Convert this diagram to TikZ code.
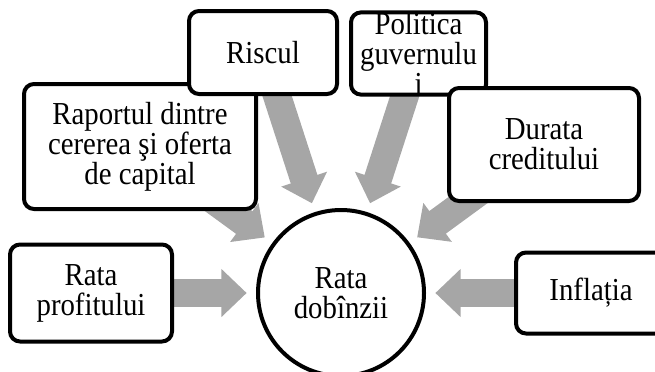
\documentclass[tikz,border=0pt]{standalone}
\usepackage{fontspec}
\setmainfont[FakeStretch=0.9]{Liberation Serif}
\usetikzlibrary{arrows.meta,backgrounds}
\definecolor{arrowgrey}{HTML}{A6A6A6}

\begin{document}
\begin{tikzpicture}[x=0.75pt,y=-0.75pt,
    factor/.style={draw=black, line width=3pt, rounded corners=7.5pt, fill=white,
      align=center, inner sep=0pt, font=\fontsize{24pt}{22.5pt}\selectfont},
    centre/.style={circle, draw=black, line width=3pt, fill=white, align=center,
      inner sep=0pt, minimum size=124.5pt, font=\fontsize{24pt}{22.5pt}\selectfont},
    push/.style={draw=arrowgrey, line width=21pt,
      -{Triangle[length=19pt,width=35pt]}, shorten >=7pt}]
    \useasboundingbox (0,0) rectangle (655,371);

    % factors round the rate
    \node[factor, minimum width=174pt, minimum height=93.75pt] (raport) at (140,146.5) {Raportul dintre\\cererea şi oferta\\de capital};
    \node[factor, minimum width=111pt, minimum height=62.25pt] (risc) at (263,52.5) {Riscul};
    \node[factor, minimum width=101.25pt, minimum height=60.75pt] (politica) at (418.5,53.5) {Politica\\guvernulu\\i};
    \node[factor, minimum width=142.5pt, minimum height=84.75pt] (durata) at (544,144.5) {Durata\\creditului};
    \node[factor, minimum width=121.5pt, minimum height=72.75pt] (profit) at (91,293) {Rata\\profitului};
    \node[factor, minimum width=112.5pt, minimum height=60.75pt] (inflatie) at (591,293) {Inflația};

    % the rate itself
    \node[centre] (dobanda) at (341,293) {Rata\\dobînzii};

    % arrows pointing in
    \begin{scope}[on background layer]
        \foreach \f in {raport,risc,politica,durata,profit,inflatie}
            \draw[push] (\f.center) -- (dobanda);
    \end{scope}
\end{tikzpicture}
\end{document}
